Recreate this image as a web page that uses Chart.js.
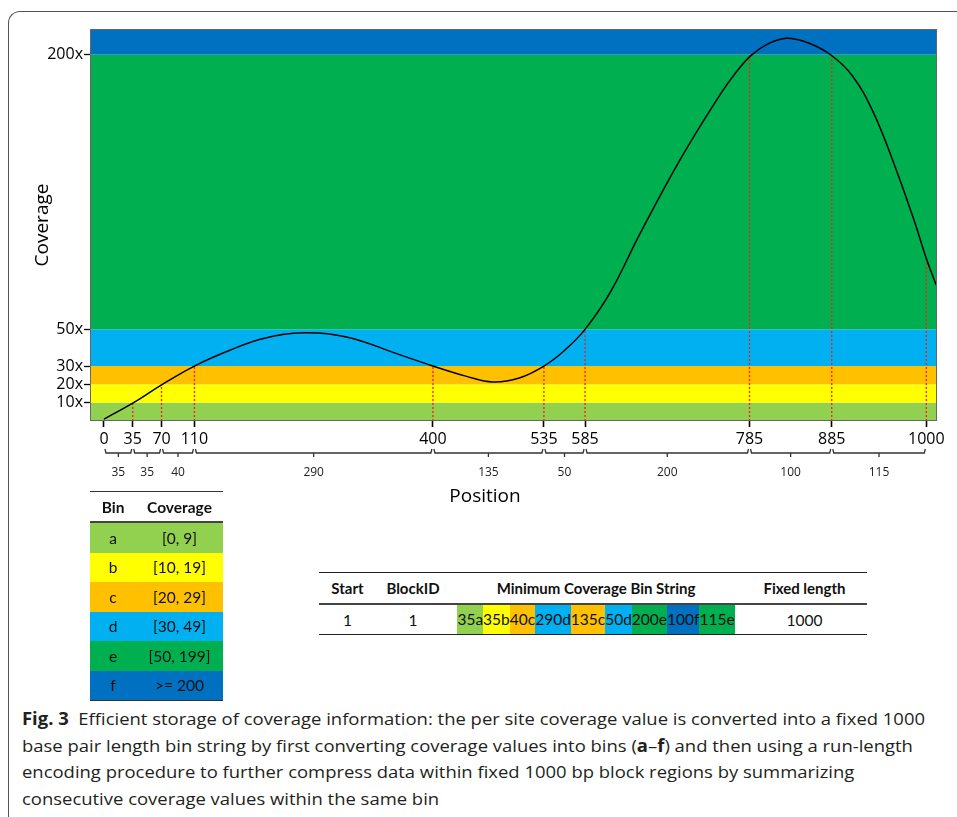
<!DOCTYPE html>
<html>
<head>
<meta charset="utf-8">
<script src="https://cdn.jsdelivr.net/npm/chart.js@4.4.0/dist/chart.umd.min.js"></script>
<style>
html, body { margin:0; padding:0; background:#fff; overflow:hidden; }
body { width:957px; height:817px; position:relative; font-family:'Open Sans', sans-serif; color:#000; }
#frame { position:absolute; left:8px; top:11px; width:1000px; height:900px; border-left:1.3px solid #555; border-top:1.3px solid #555; border-top-left-radius:12px; box-sizing:border-box; }
#g { position:absolute; left:0; top:0; }
.tbl { position:absolute; font-family:Lato, sans-serif; font-size:15.5px; color:#111; }
.row { display:flex; align-items:center; }
.cell { text-align:center; }
#bins { left:90px; top:491px; width:133px; border-top:1.2px solid #333; border-bottom:1.5px solid #333; }
#bins .hd { height:29px; font-weight:bold; border-bottom:2px solid #444; }
#bins .r { height:29.5px; }
#block { left:319px; top:572px; width:548px; border-top:1.5px solid #222; border-bottom:1.5px solid #222; }
#block .hd { height:30px; font-weight:bold; border-bottom:2px solid #444; font-size:15px; }
#block .r { height:29px; }
#strip span { display:inline-block; line-height:29px; font-size:15.5px; }
#caption { position:absolute; left:22px; top:706px; font-family:'Open Sans', sans-serif; font-size:17px; line-height:26.7px; color:#231f20; }
#caption div { white-space:nowrap; transform-origin:0 50%; width:max-content; }
</style>
</head>
<body>
<div id="frame"></div>
<canvas id="g" width="957" height="520"></canvas>
<div id="bins" class="tbl"></div>
<div id="block" class="tbl"></div>
<div id="caption">
  <div id="cap1"><b>Fig. 3</b>&nbsp; Efficient storage of coverage information: the per site coverage value is converted into a fixed 1000</div>
  <div>base pair length bin string by first converting coverage values into bins (<b>a</b>–<b>f</b>) and then using a run-length</div>
  <div>encoding procedure to further compress data within fixed 1000 bp block regions by summarizing</div>
  <div>consecutive coverage values within the same bin</div>
</div>
<script>
// bins
const binNames = ['a', 'b', 'c', 'd', 'e', 'f'];
const binRanges = ['[0, 9]', '[10, 19]', '[20, 29]', '[30, 49]', '[50, 199]', '>= 200'];
const binLows = [0, 10, 20, 30, 50, 200];
const binHighs = [10, 20, 30, 50, 200, 214];
const binColors = ['#92D050', '#FFFF00', '#FFC000', '#00B0F0', '#00B050', '#0070C0'];

// coverage curve
const position = [0, 36, 71, 110, 153, 194, 244, 295, 356, 400, 440, 473, 505, 535, 560, 585, 616, 652, 701, 749, 768, 787, 808, 830, 856, 884, 910, 935, 960, 985, 1000, 1012];
const coverage = [1, 10, 20, 30, 38.6, 45, 48.2, 45.9, 36.8, 30, 24.5, 21.3, 23.5, 30, 38.5, 50, 70.5, 102.4, 143, 178, 190, 199.6, 206, 209, 206.5, 199.8, 188.5, 169, 141.3, 109.7, 88.7, 74.2];

// axis ticks
const xTicks = [0, 35, 70, 110, 400, 535, 585, 785, 885, 1000];
const yTicks = [10, 20, 30, 50, 200];

// run boundaries and where the curve meets them
const bounds = [35, 70, 110, 400, 535, 585, 785, 885, 1000];
const boundCov = [10, 20, 30, 30, 30, 50, 200, 200, 88.7];

// run-length encoding
const runStarts = [0, 35, 70, 110, 400, 535, 585, 785, 885];
const runLengths = [35, 35, 40, 290, 135, 50, 200, 100, 115];
const runBins = ['a', 'b', 'c', 'd', 'c', 'd', 'e', 'f', 'e'];

const blockStart = 1, blockId = 1, blockLen = 1000;

Chart.defaults.font.family = "'Open Sans', sans-serif";
Chart.defaults.color = '#000';

const extras = {
    id: 'extras',
    beforeDatasetsDraw(chart) {
        const {ctx, chartArea: a, scales: {y}} = chart;
        ctx.save();
        binLows.forEach((lo, i) => {
            const top = y.getPixelForValue(binHighs[i]);
            const bot = y.getPixelForValue(lo);
            ctx.fillStyle = binColors[i];
            ctx.fillRect(a.left, top, a.right - a.left, bot - top);
        });
        ctx.restore();
    },
    afterDatasetsDraw(chart) {
        const {ctx, chartArea: a} = chart;
        ctx.save();
        ctx.strokeStyle = '#666';
        ctx.lineWidth = 1;
        ctx.strokeRect(a.left + 0.5, a.top + 0.5, a.right - a.left - 1, a.bottom - a.top - 1);
        ctx.restore();
    },
    afterDraw(chart) {
        const {ctx, scales: {x}} = chart;
        const Y = 453;
        ctx.save();
        ctx.strokeStyle = '#333';
        ctx.lineWidth = 1.3;
        ctx.fillStyle = '#222';
        ctx.font = "12px 'Open Sans', sans-serif";
        ctx.textAlign = 'center';
        ctx.textBaseline = 'middle';
        runStarts.forEach((s, i) => {
            const x0 = x.getPixelForValue(s) + 1;
            const x1 = x.getPixelForValue(s + runLengths[i]) - 1;
            const mid = (x0 + x1) / 2;
            ctx.beginPath();
            ctx.moveTo(x0, Y - 4);
            ctx.lineTo(x0 + 1, Y);
            ctx.lineTo(x1 - 1, Y);
            ctx.lineTo(x1, Y - 4);
            ctx.moveTo(mid, Y);
            ctx.lineTo(mid, Y + 4);
            ctx.stroke();
            ctx.fillText(String(runLengths[i]), mid, Y + 20);
        });
        ctx.font = "19px 'Open Sans', sans-serif";
        ctx.fillStyle = '#000';
        ctx.fillText('Position', 485, 497);
        ctx.restore();
    }
};

const datasets = [{
    data: position.map((p, i) => ({x: p, y: coverage[i]})),
    showLine: true,
    borderColor: '#000',
    borderWidth: 1.5,
    tension: 0.4,
    pointRadius: 0,
    order: 0
}];
bounds.forEach((b, i) => {
    datasets.push({
        data: [{x: b, y: 0}, {x: b, y: boundCov[i]}],
        showLine: true,
        borderColor: '#ff1a1a',
        borderWidth: 1.3,
        borderDash: [2, 2],
        pointRadius: 0,
        order: 1
    });
});

new Chart(document.getElementById('g').getContext('2d'), {
    type: 'scatter',
    data: {datasets: datasets},
    options: {
        responsive: false,
        animation: false,
        layout: {padding: {left: 0, top: 29, right: 20, bottom: 0}},
        plugins: {legend: {display: false}, tooltip: {enabled: false}},
        scales: {
            x: {
                type: 'linear', min: -17, max: 1013,
                afterBuildTicks: s => { s.ticks = xTicks.map(v => ({value: v})); },
                afterFit: s => { s.height = 99; },
                grid: {drawOnChartArea: false, tickLength: 6, tickColor: '#000', tickWidth: 1.6},
                border: {display: false},
                ticks: {autoSkip: false, maxRotation: 0, padding: 3, font: {size: 16}, callback: v => String(v)}
            },
            y: {
                type: 'linear', min: 0, max: 214,
                afterBuildTicks: s => { s.ticks = yTicks.map(v => ({value: v})); },
                afterFit: s => { s.width = 90; },
                grid: {drawOnChartArea: false, tickLength: 6, tickColor: '#000', tickWidth: 1.3},
                border: {display: false},
                ticks: {padding: 1, font: {size: 16}, callback: v => v + 'x'},
                title: {display: true, text: 'Coverage', font: {size: 19}, padding: {top: 31.6, bottom: 0}}
            }
        }
    },
    plugins: [extras]
});

// bin table
let html = '<div class="row hd"><div class="cell" style="width:46px">Bin</div><div class="cell" style="width:87px">Coverage</div></div>';
binNames.forEach((n, i) => {
    html += '<div class="row r" style="background:' + binColors[i] + '"><div class="cell" style="width:46px">' + n +
        '</div><div class="cell" style="width:87px">' + binRanges[i] + '</div></div>';
});
document.getElementById('bins').innerHTML = html;

// block table
const cols = [57, 74, 292, 125];
let strip = '';
runLengths.forEach((l, i) => {
    strip += '<span style="background:' + binColors[binNames.indexOf(runBins[i])] + '">' + l + runBins[i] + '</span>';
});
const hd = ['Start', 'BlockID', 'Minimum Coverage Bin String', 'Fixed length'];
const rw = [String(blockStart), String(blockId), '<div id="strip">' + strip + '</div>', String(blockLen)];
let bh = '<div class="row hd">' + hd.map((t, i) => '<div class="cell" style="width:' + cols[i] + 'px">' + t + '</div>').join('') + '</div>';
bh += '<div class="row r">' + rw.map((t, i) => '<div class="cell" style="width:' + cols[i] + 'px">' + t + '</div>').join('') + '</div>';
document.getElementById('block').innerHTML = bh;

// fit caption width
const k = 903 / document.getElementById('cap1').getBoundingClientRect().width;
document.querySelectorAll('#caption div').forEach(d => { d.style.transform = 'scaleX(' + k + ')'; });
</script>
</body>
</html>
